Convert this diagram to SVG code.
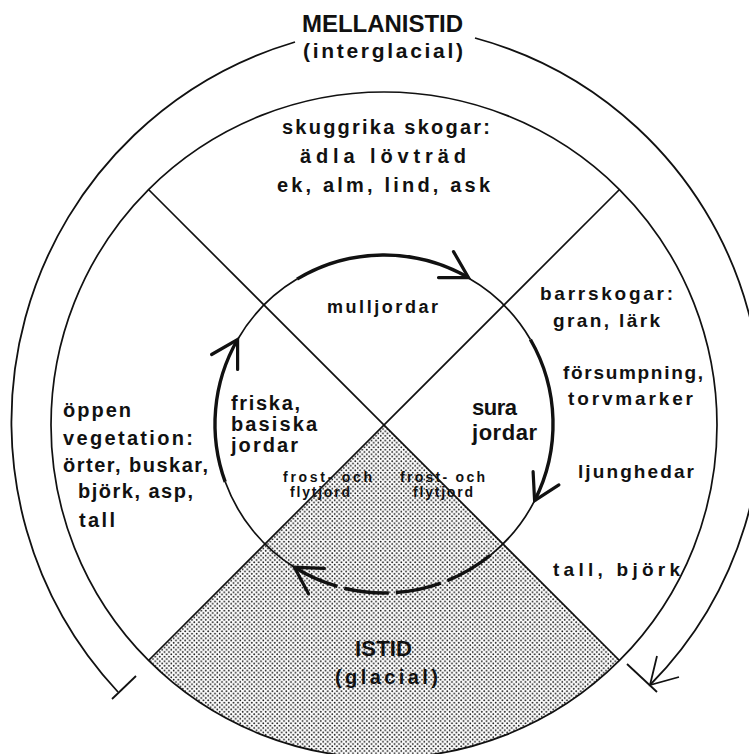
<svg xmlns="http://www.w3.org/2000/svg" width="749" height="754" viewBox="0 0 749 754">
<style>
.t{font-family:"Liberation Sans",Arial,sans-serif;font-weight:bold;fill:#111;}
.s20{font-size:20px;}
.s19{font-size:19px;}
.s22{font-size:22px;}
.s15{font-size:14px;}
.thin{fill:none;stroke:#111;stroke-width:1.7;}
.thick{fill:none;stroke:#111;stroke-width:3.4;stroke-linecap:butt;}
.head{fill:none;stroke:#111;stroke-width:3.2;stroke-linecap:round;}
.ring{fill:none;stroke:#111;stroke-width:1.8;}
</style>
<defs>
<pattern id="stipple" width="4.6" height="4.6" patternUnits="userSpaceOnUse">
<rect width="4.6" height="4.6" fill="#fff"/>
<circle cx="1.15" cy="1.15" r="0.9" fill="#111"/>
<circle cx="3.45" cy="3.45" r="0.9" fill="#111"/>
</pattern>
</defs>
<rect width="749" height="754" fill="#fff"/>

<g id="istid-sector">
<path d="M384,425 L148.5,660.5 A333,333 0 0 0 619.5,660.5 Z" fill="url(#stipple)"/>
</g>

<g id="main-circle">
<circle cx="384" cy="425" r="333" class="thin" stroke-width="1.9"/>
<line x1="148.5" y1="189.5" x2="619.5" y2="660.5" class="thin"/>
<line x1="619.5" y1="189.5" x2="148.5" y2="660.5" class="thin"/>
</g>

<g id="outer-ring">
<path d="M118,692 A396,396 0 0 1 295,42" class="ring"/>
<path d="M475,38 A388,388 0 0 1 650,685" class="ring"/>
<line x1="112" y1="699" x2="136" y2="676" class="ring"/>
<line x1="627" y1="664" x2="657" y2="692" class="ring"/>
<polyline points="657,656 650,685 679,677" class="ring"/>
</g>

<g id="connectors">
<path d="M467.6,277.6 A169,169 0 0 1 530.4,339.5 M534.6,500.7 A169,169 0 0 1 490.3,555.3 M294.4,567.3 A169,169 0 0 1 225.2,481.8" class="thin"/>
<path d="M237.6,339.5 A169,169 0 0 1 297,279.1" class="thin"/>
<path d="M297,279.1 A169,169 0 0 1 468.5,277.6" class="thick"/>
<polyline points="438.5,277.6 468.5,277.6 453.5,251.6" class="head"/>
<path d="M530.4,339.5 A169,169 0 0 1 534.6,500.7" class="thick"/>
<polyline points="533.1,471.7 534.6,500.7 558.9,484.9" class="head"/>
<path d="M490.3,555.3 A169,169 0 0 1 294.4,567.3" class="thick" stroke-dasharray="50 7 46 7 45 7 60"/>
<polyline points="324.4,568.3 294.4,567.3 308.5,593.8" class="head"/>
<path d="M225.2,481.8 A169,169 0 0 1 237.6,339.5" class="thick"/>
<polyline points="237.6,369.5 237.6,339.5 211.6,354.5" class="head"/>
</g>

<g id="mellanistid">
<text class="t" x="302" y="32" font-size="24" textLength="161" lengthAdjust="spacing">MELLANISTID</text>
<text class="t" x="303" y="58" font-size="21" textLength="160" lengthAdjust="spacing">(interglacial)</text>
</g>

<g id="sector-top">
<text class="t s20" x="282" y="134" textLength="208" lengthAdjust="spacing">skuggrika skogar:</text>
<text class="t s20" x="300" y="163" textLength="166" lengthAdjust="spacing">ädla lövträd</text>
<text class="t s20" x="277" y="192" textLength="213" lengthAdjust="spacing">ek, alm, lind, ask</text>
</g>

<g id="sector-right">
<text class="t s19" x="540" y="300" textLength="133" lengthAdjust="spacing">barrskogar:</text>
<text class="t s19" x="553" y="327" textLength="107" lengthAdjust="spacing">gran, lärk</text>
<text class="t s19" x="563" y="379" textLength="140" lengthAdjust="spacing">försumpning,</text>
<text class="t s19" x="568" y="405" textLength="125" lengthAdjust="spacing">torvmarker</text>
<text class="t s19" x="578" y="478" textLength="116" lengthAdjust="spacing">ljunghedar</text>
<text class="t s19" x="553" y="576" textLength="127" lengthAdjust="spacing">tall, björk</text>
</g>

<g id="sector-left">
<text class="t s20" x="63" y="417" textLength="68" lengthAdjust="spacing">öppen</text>
<text class="t s20" x="63" y="445" textLength="130" lengthAdjust="spacing">vegetation:</text>
<text class="t s20" x="63" y="472" textLength="145" lengthAdjust="spacing">örter, buskar,</text>
<text class="t s20" x="78" y="498" textLength="115" lengthAdjust="spacing">björk, asp,</text>
<text class="t s20" x="79" y="527" textLength="36" lengthAdjust="spacing">tall</text>
</g>

<g id="mulljordar">
<text class="t" font-size="18" x="327" y="313" textLength="111" lengthAdjust="spacing">mulljordar</text>
</g>

<g id="sura-jordar">
<text class="t s22" x="472" y="415" textLength="45" lengthAdjust="spacing">sura</text>
<text class="t s22" x="472" y="440" textLength="65" lengthAdjust="spacing">jordar</text>
</g>

<g id="friska-jordar">
<text class="t s20" x="231" y="410" textLength="69" lengthAdjust="spacing">friska,</text>
<text class="t s20" x="231" y="431" textLength="86" lengthAdjust="spacing">basiska</text>
<text class="t s20" x="231" y="452" textLength="67" lengthAdjust="spacing">jordar</text>
</g>

<g id="frost-left">
<text class="t s15" x="283" y="482" textLength="89" lengthAdjust="spacing">frost- och</text>
<text class="t s15" x="290" y="497" textLength="60" lengthAdjust="spacing">flytjord</text>
</g>

<g id="frost-right">
<text class="t s15" x="400" y="482" textLength="85" lengthAdjust="spacing">frost- och</text>
<text class="t s15" x="413" y="497" textLength="60" lengthAdjust="spacing">flytjord</text>
</g>

<g id="istid">
<text class="t s22" x="355" y="656" textLength="57" lengthAdjust="spacing">ISTID</text>
<text class="t s20" x="335" y="684" textLength="103" lengthAdjust="spacing">(glacial)</text>
</g>
</svg>
